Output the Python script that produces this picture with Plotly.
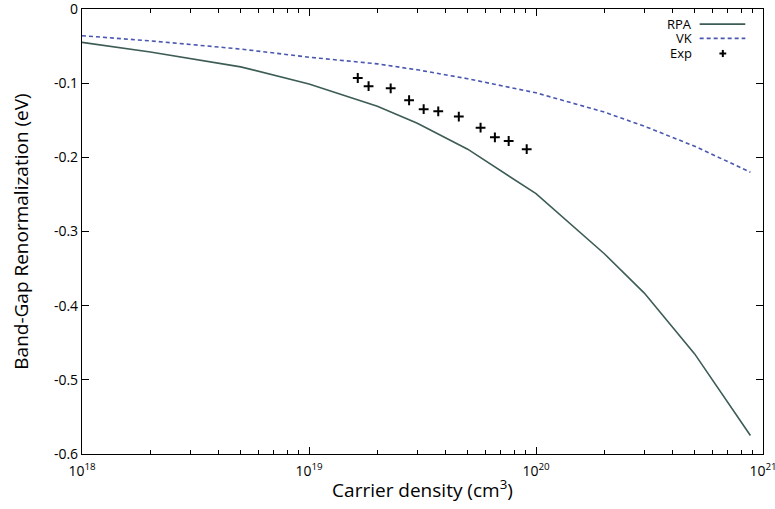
import plotly.graph_objects as go

# Carrier density (cm^-3) and band-gap renormalization (eV)
rpa_density = [1e18, 2e18, 5e18, 1e19, 2e19, 3e19, 5e19, 1e20, 2e20, 3e20, 5e20, 8.8e20]
rpa_bgr = [-0.045, -0.058, -0.078, -0.101, -0.131, -0.154, -0.189, -0.249, -0.330, -0.383, -0.465, -0.575]

vk_density = [1e18, 2e18, 5e18, 1e19, 2e19, 3e19, 5e19, 1e20, 2e20, 3e20, 5e20, 8.8e20]
vk_bgr = [-0.036, -0.043, -0.054, -0.065, -0.074, -0.082, -0.094, -0.113, -0.139, -0.158, -0.185, -0.220]

exp_density = [1.64e19, 1.83e19, 2.29e19, 2.76e19, 3.20e19, 3.71e19, 4.57e19, 5.70e19, 6.59e19, 7.58e19, 9.10e19]
exp_bgr = [-0.093, -0.104, -0.107, -0.123, -0.135, -0.138, -0.145, -0.160, -0.173, -0.178, -0.189]

x_tick_vals = [1e18, 1e19, 1e20, 1e21]
x_tick_text = ["10<sup>18</sup>", "10<sup>19</sup>", "10<sup>20</sup>", "10<sup>21</sup>"]
y_tick_vals = [0, -0.1, -0.2, -0.3, -0.4, -0.5, -0.6]
y_tick_text = ["0", "-0.1", "-0.2", "-0.3", "-0.4", "-0.5", "-0.6"]

series_names = ["RPA", "VK", "Exp"]
rpa_color = "#3d5c56"
vk_color = "#4a57b0"

FONT = "Open Sans"

fig = go.Figure()
fig.add_trace(go.Scatter(x=rpa_density, y=rpa_bgr, mode="lines", name=series_names[0],
                         line=dict(color=rpa_color, width=1.6)))
fig.add_trace(go.Scatter(x=vk_density, y=vk_bgr, mode="lines", name=series_names[1],
                         line=dict(color=vk_color, width=1.6, dash="4px,3px")))
fig.add_trace(go.Scatter(x=exp_density, y=exp_bgr, mode="markers", name=series_names[2],
                         marker=dict(symbol="cross-thin", size=7, color="black",
                                     line=dict(color="black", width=2))))

minor_vals = [float(m) * 10.0 ** e for e in (18, 19, 20) for m in range(2, 10)]

fig.update_xaxes(
    type="log", range=[18, 21], automargin=False, ticklabeloverflow="allow",
    tickvals=x_tick_vals, ticktext=x_tick_text, ticklabelstandoff=4,
    ticks="inside", ticklen=7, tickwidth=1, tickcolor="black",
    minor=dict(tickvals=minor_vals, ticks="inside", ticklen=4, tickcolor="black", showgrid=False),
    showline=True, linecolor="black", linewidth=1.2, mirror="ticks",
    showgrid=False, zeroline=False,
    tickfont=dict(family=FONT, size=14, color="black"),
    title=dict(text="Carrier density (cm<sup>3</sup>)", font=dict(family=FONT, size=19, color="black"),
               standoff=4),
)
fig.update_yaxes(
    range=[-0.6, 0], automargin=False, ticklabeloverflow="allow",
    tickvals=y_tick_vals, ticktext=y_tick_text,
    ticks="inside", ticklen=7, tickwidth=1, tickcolor="black",
    showline=True, linecolor="black", linewidth=1.2, mirror="ticks",
    showgrid=False, zeroline=False,
    tickfont=dict(family=FONT, size=14, color="black"),
    title=dict(text="Band-Gap Renormalization (eV)", font=dict(family=FONT, size=19, color="black"),
               standoff=20),
)

# gnuplot-style key: right-aligned labels with samples on their right
key_rows = [0.966, 0.934, 0.900]
for name, yk in zip(series_names, key_rows):
    fig.add_annotation(xref="paper", yref="paper", x=0.897, y=yk, text=name, showarrow=False,
                       xanchor="right", yanchor="middle", borderpad=0,
                       font=dict(family=FONT, size=13, color="black"))
fig.add_shape(type="line", xref="paper", yref="paper", x0=0.907, x1=0.974, y0=key_rows[0], y1=key_rows[0],
              line=dict(color=rpa_color, width=1.6))
fig.add_shape(type="line", xref="paper", yref="paper", x0=0.907, x1=0.974, y0=key_rows[1], y1=key_rows[1],
              line=dict(color=vk_color, width=1.6, dash="4px,3px"))
fig.add_shape(type="line", xref="paper", yref="paper", x0=0.941 - 0.005, x1=0.941 + 0.005,
              y0=key_rows[2], y1=key_rows[2], line=dict(color="black", width=2))
fig.add_shape(type="line", xref="paper", yref="paper", x0=0.941, x1=0.941,
              y0=key_rows[2] - 0.008, y1=key_rows[2] + 0.008, line=dict(color="black", width=2))

fig.update_layout(
    width=775, height=509,
    margin=dict(l=82, r=12, t=9, b=55),
    plot_bgcolor="white", paper_bgcolor="white",
    showlegend=False,
    font=dict(family=FONT, color="black"),
)

fig.write_html("out.html")
